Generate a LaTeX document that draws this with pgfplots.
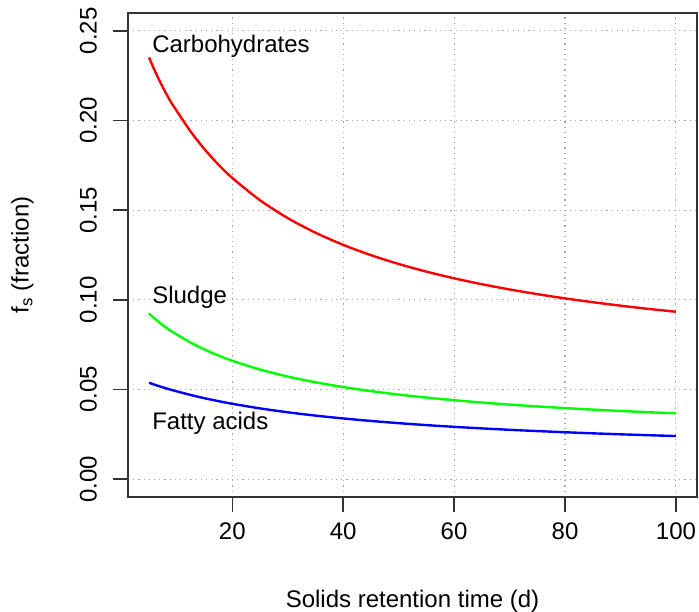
\documentclass[border=0pt]{standalone}
\usepackage{fontspec}
\setmainfont{Liberation Sans}
\usepackage{pgfplots}
\pgfplotsset{compat=1.18}

\pgfplotstableread{
srt carb sludge fatty
5   0.23520 0.09240 0.05374
6   0.22800 0.08957 0.05263
7.5 0.21840 0.08580 0.05115
9   0.21000 0.08250 0.04978
10  0.20533 0.08067 0.04892
12.5 0.19385 0.07615 0.04691
15  0.18400 0.07229 0.04510
17.5 0.17545 0.06893 0.04349
20  0.16800 0.06600 0.04200
25  0.15556 0.06111 0.03943
30  0.14560 0.05720 0.03726
35  0.13745 0.05400 0.03541
40  0.13067 0.05133 0.03382
45  0.12492 0.04908 0.03243
50  0.12000 0.04714 0.03120
55  0.11573 0.04547 0.03011
60  0.11200 0.04400 0.02914
65  0.10871 0.04271 0.02827
70  0.10578 0.04156 0.02748
75  0.10316 0.04053 0.02677
80  0.10080 0.03960 0.02612
85  0.09867 0.03876 0.02552
90  0.09673 0.03800 0.02497
95  0.09496 0.03730 0.02447
100 0.09333 0.03667 0.02400
}\fsdata

\begin{document}
\fontsize{24}{28}\selectfont
\begin{tikzpicture}
\begin{axis}[
  name=ax,
  scale only axis,
  width=569pt, height=484pt,
  xmin=1.2, xmax=103.8,
  ymin=-0.01, ymax=0.26,
  xtick={20,40,60,80,100},
  ytick={0,0.05,0.10,0.15,0.20,0.25},
  yticklabels={0.00,0.05,0.10,0.15,0.20,0.25},
  tick align=outside,
  major tick length=15pt,
  tick style={black!80, line width=1.5pt},
  axis line style={line width=1.5pt, black!80},
  xtick pos=bottom, ytick pos=left,
  grid=major,
  grid style={dash pattern=on 1.2pt off 4pt, black!35, line width=1.1pt},
  /pgf/number format/assume math mode=true,
  tick label style={font=\fontsize{24}{28}\selectfont},
  xticklabel style={yshift=-3pt},
  yticklabel style={rotate=90, anchor=south, yshift=8pt},
  label style={font=\fontsize{24}{28}\selectfont},
  xlabel={Solids retention time (d)},
  ylabel={f\textsubscript{s} (fraction)},
  xlabel style={yshift=-34pt},
  ylabel style={yshift=30pt},
]
\addplot[red, line width=2.4pt, smooth] table[x=srt, y=carb] {\fsdata};
\addplot[green, line width=2.4pt, smooth] table[x=srt, y=sludge] {\fsdata};
\addplot[blue, line width=2.4pt, smooth] table[x=srt, y=fatty] {\fsdata};
\node[anchor=west, inner sep=3pt] at (axis cs:5,0.2416) {Carbohydrates};
\node[anchor=west, inner sep=3pt] at (axis cs:5,0.1016) {Sludge};
\node[anchor=west, inner sep=3pt] at (axis cs:5,0.0312) {Fatty acids};
\end{axis}
\pgfresetboundingbox
\path[use as bounding box] ([shift={(-128pt,-115pt)}]ax.south west) rectangle ([shift={(2pt,13pt)}]ax.north east);
\end{tikzpicture}
\end{document}
